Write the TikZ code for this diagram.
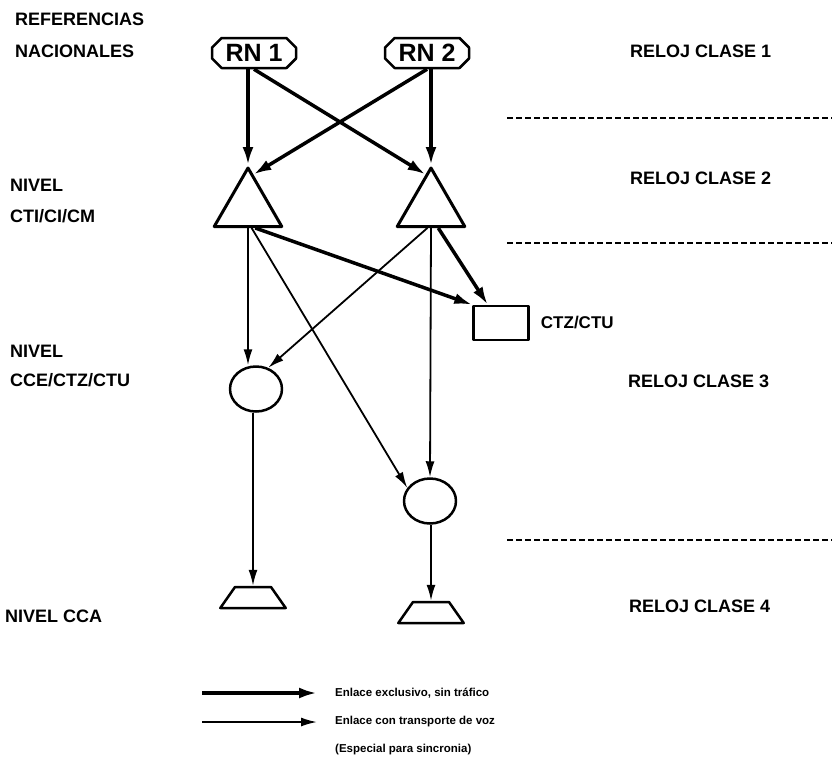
\documentclass[tikz,border=0pt]{standalone}
\usepackage{fontspec}
\setmainfont{Liberation Sans}
\usetikzlibrary{positioning}
\usetikzlibrary{arrows.meta}
\usetikzlibrary{shapes.geometric, shapes.misc, calc}

\begin{document}
\begin{tikzpicture}[x=1pt, y=-1pt, line join=round,
    lbl/.style = {anchor=west, inner sep=0pt, font=\bfseries\fontsize{18}{20}\selectfont},
    leg/.style = {anchor=west, inner sep=0pt, font=\bfseries\fontsize{11.5}{13}\selectfont},
    ref/.style = {draw, chamfered rectangle, chamfered rectangle xsep=6pt, line width=2.5pt, minimum width=84pt, minimum height=30pt, inner sep=2pt, font=\bfseries\fontsize{25}{26}\selectfont},
    tri/.style = {draw, regular polygon, regular polygon sides=3, minimum size=78pt, inner sep=0pt, line width=3pt},
    ell/.style = {draw, ellipse, minimum width=52pt, minimum height=45pt, inner sep=0pt, line width=2.5pt},
    box/.style = {draw, rectangle, minimum width=55pt, minimum height=34pt, inner sep=0pt, line width=2.5pt},
    trap/.style = {draw, trapezium, trapezium angle=55, inner sep=0pt, line width=2.5pt},
    thk/.style = {line width=3.5pt, -{Latex[length=18pt, width=11pt]}},
    thn/.style = {line width=1.8pt, -{Latex[length=16pt, width=9pt]}},
    sep/.style = {line width=1.5pt, dash pattern=on 6pt off 3pt}]

    \useasboundingbox[fill=white] (0,0) rectangle (832,761);

    % levels
    \node[lbl] (refs) at (15,19) {REFERENCIAS};
    \node[lbl] (nacs) at (15,51) {NACIONALES};
    \node[lbl] (niv1) at (10,185) {NIVEL};
    \node[lbl] (cti) at (10,216) {CTI/CI/CM};
    \node[lbl] (niv2) at (10,351) {NIVEL};
    \node[lbl] (cce) at (10,380) {CCE/CTZ/CTU};
    \node[lbl] (cca) at (5,616) {NIVEL CCA};

    \node[lbl] (rel1) at (630,51) {RELOJ CLASE 1};
    \node[lbl] (rel2) at (630,178) {RELOJ CLASE 2};
    \node[lbl] (rel3) at (628,381) {RELOJ CLASE 3};
    \node[lbl] (rel4) at (629,606) {RELOJ CLASE 4};

    \draw[sep] (507,118) -- (832,118);
    \draw[sep] (507,243) -- (832,243);
    \draw[sep] (507,540) -- (832,540);

    % clocks
    \node[ref] (rn1) at (254,53) {RN 1};
    \node[ref] (rn2) at (427,53) {RN 2};
    \node[tri] (t1) at (248,207) {};
    \node[tri] (t2) at (431,207) {};
    \node[box] (ctz) at (501,323) {};
    \node[lbl, right=11pt of ctz, font=\bfseries\fontsize{17}{18}\selectfont] (ctzl) {CTZ/CTU};
    \node[ell] (c1) at (256,389) {};
    \node[ell] (c2) at (430,501) {};
    \node[trap] (tr1) at (253,597.5) {\rule{36pt}{0pt}\rule{0pt}{21pt}};
    \node[trap] (tr2) at (431,612.5) {\rule{36pt}{0pt}\rule{0pt}{21pt}};

    \draw[thk] (t1.corner 1 |- rn1.south) -- (t1.corner 1);
    \draw[thk] (t2.corner 1 |- rn2.south) -- (t2.corner 1);
    \draw[thk] (rn1.south) -- ($(t2.corner 1)!0.15!(t2.corner 2)$);
    \draw[thk] (rn2.south) -- ($(t1.corner 1)!0.15!(t1.corner 3)$);
    \draw[thk] ($(t1.corner 2)!0.6!(t1.corner 3)$) -- (ctz.north west);
    \draw[thk] ($(t2.corner 2)!0.6!(t2.corner 3)$) -- ($(ctz.north west)!0.27!(ctz.north east)$);

    \draw[thn] (t1.south) -- (t1.south |- c1.north);
    \draw[thn] ($(t1.corner 2)!0.55!(t1.corner 3)$) -- (c2.150);
    \draw[thn] ($(t2.corner 2)!0.45!(t2.corner 3)$) -- (c1.60);
    \draw[thn] (t2.south) -- (c2.north);
    \draw[thn] (tr1.north |- c1.south) -- (tr1.north);
    \draw[thn] (tr2.north |- c2.south) -- (tr2.north);

    % legend
    \coordinate (l1) at (202,693);
    \coordinate (l2) at (202,722);
    \node[leg, right=133pt of l1] (leg1) {Enlace exclusivo, sin tráfico};
    \node[leg, right=133pt of l2] (leg2) {Enlace con transporte de voz};
    \node[leg] (leg3) at (335,750) {(Especial para sincronia)};
    \draw[thk] (l1) -- ([xshift=-18pt]leg1.west);
    \draw[thn] (l2) -- ([xshift=-18pt]leg2.west);

\end{tikzpicture}
\end{document}
